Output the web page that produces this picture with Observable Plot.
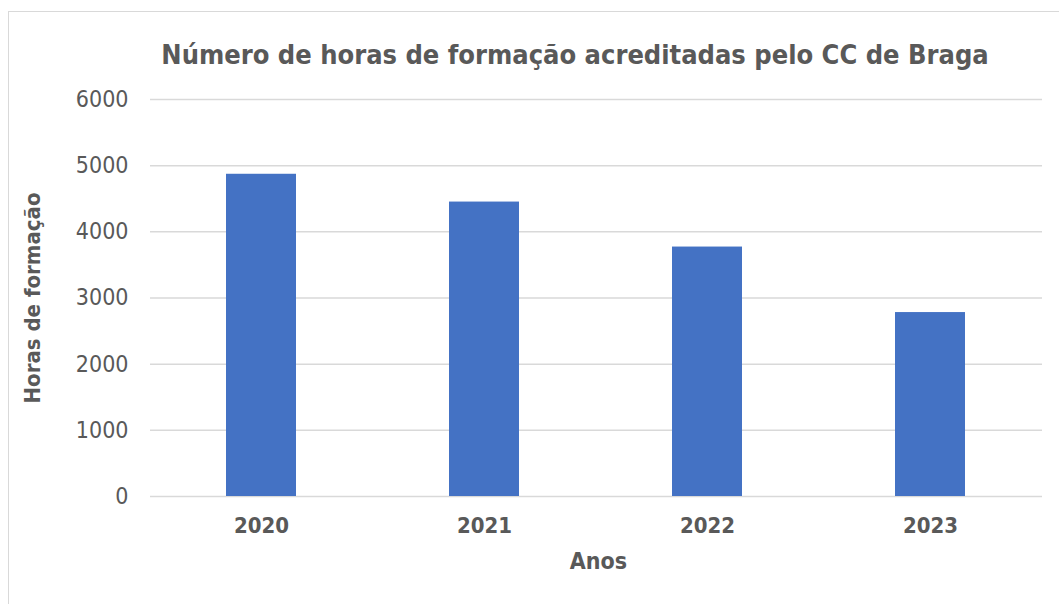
<!DOCTYPE html>
<html>
<head>
<meta charset="utf-8">
<script src="https://cdn.jsdelivr.net/npm/d3@7"></script>
<script src="https://cdn.jsdelivr.net/npm/@observablehq/plot@0.6"></script>
<style>
  html, body { margin: 0; padding: 0; background: #fff; }
  #wrap { position: relative; width: 1059px; height: 604px; overflow: hidden; font-family: "DejaVu Sans Condensed", "DejaVu Sans", sans-serif; }
  #border { position: absolute; left: 8px; top: 11px; width: 1070px; height: 620px; border: 1.5px solid #d9d9d9; box-sizing: border-box; }
  #titlebox { position: relative; height: 80px; }
  #title { position: absolute; left: 575px; top: 40px; transform: translateX(-50%); white-space: nowrap;
           font-size: 27px; font-weight: bold; color: #595959; line-height: 30px; }
  #chart { position: relative; }
</style>
</head>
<body>
<div id="wrap">
  <div id="border"></div>
  <div id="titlebox"><div id="title">Número de horas de formação acreditadas pelo CC de Braga</div></div>
  <div id="chart"></div>
</div>
<script>
const years = ["2020", "2021", "2022", "2023"];
const hours = [4870, 4450, 3770, 2780];
const yTicks = [0, 1000, 2000, 3000, 4000, 5000, 6000];
const yLabel = "Horas de formação";
const xLabel = "Anos";

const data = years.map((y, i) => ({year: y, value: hours[i]}));
const font = '"DejaVu Sans Condensed", "DejaVu Sans", sans-serif';

const chart = Plot.plot({
  width: 1059,
  height: 524,
  marginLeft: 150,
  marginRight: 17,
  marginTop: 19,
  marginBottom: 108,
  style: {fontFamily: font, color: "#595959", background: "transparent"},
  x: {domain: years, paddingInner: 0.686, paddingOuter: 0.343, label: null},
  y: {domain: [0, 6000], label: null},
  marks: [
    Plot.gridY(yTicks, {stroke: "#d9d9d9", strokeOpacity: 1, strokeWidth: 1.5}),
    Plot.barY(data, {x: "year", y: "value", fill: "#4472C4"}),
    Plot.axisY(yTicks, {tickSize: 0, tickPadding: 22, fontSize: 23, tickFormat: d => String(d), fill: "#595959", label: null}),
    Plot.axisX({tickSize: 0, tickPadding: 21, fontSize: 22, fontWeight: "bold", fill: "#595959", label: null}),
    Plot.text([yLabel], {frameAnchor: "left", textAnchor: "middle", dx: -118, rotate: -90, fontSize: 22, fontWeight: "bold", fill: "#595959", text: d => d}),
    Plot.text([xLabel], {frameAnchor: "bottom", dy: 72, dx: 2, fontSize: 23, fontWeight: "bold", fill: "#595959", text: d => d})
  ]
});
document.getElementById("chart").appendChild(chart);
</script>
</body>
</html>
